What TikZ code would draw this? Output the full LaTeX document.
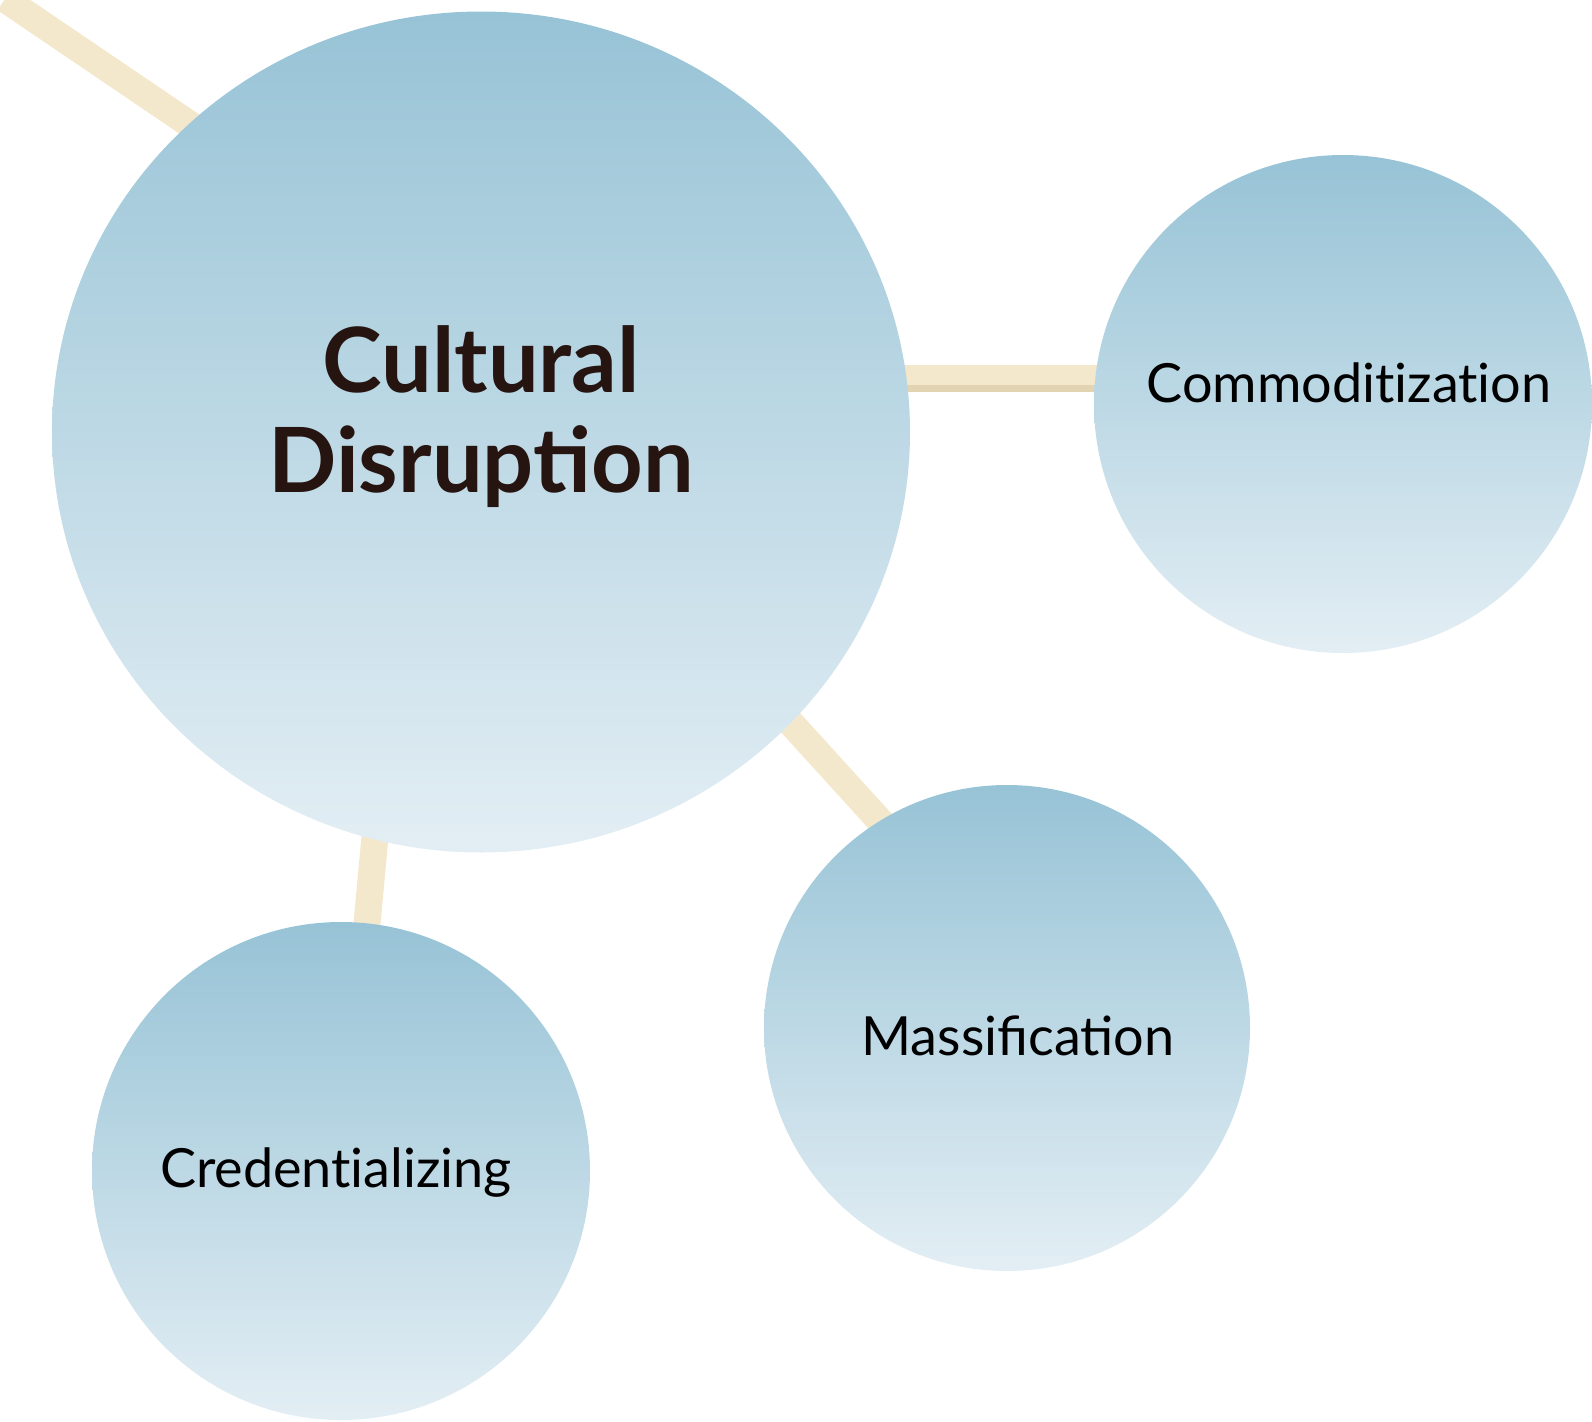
\documentclass[tikz,border=0pt]{standalone}
\usepackage{fontspec}
\setmainfont{Lato}
\usetikzlibrary{shapes.geometric}

\definecolor{bubbletop}{RGB}{151,195,214}
\definecolor{bubblebot}{RGB}{227,238,244}
\definecolor{stick}{RGB}{244,232,204}
\definecolor{stickdark}{RGB}{226,212,178}
\definecolor{labelink}{RGB}{38,20,16}

\tikzset{every picture/.style={line width=0.75pt}}
\tikzset{
  bubble/.style={circle, draw=none, top color=bubbletop, bottom color=bubblebot, inner sep=0pt},
  stickline/.style={draw=stick, line width=13.5pt, line cap=butt},
  smalltext/.style={anchor=base, inner sep=0pt, text=black, font=\fontsize{27}{32}\selectfont}
}

\begin{document}
\begin{tikzpicture}[x=0.5pt,y=0.5pt,yscale=-1,xscale=1]
        \useasboundingbox (0,0) rectangle (1592,1421); %set diagram to the size of the reference
        
        %Coordinates for the stick ends
        \coordinate (tlA) at (5,-1);
        \coordinate (tlB) at (260,172);
        \coordinate (comA) at (895,378);
        \coordinate (comB) at (1105,378);
        \coordinate (comdA) at (895,388);
        \coordinate (comdB) at (1105,388);
        \coordinate (masA) at (770,700);
        \coordinate (masB) at (900,843);
        \coordinate (creA) at (377,815);
        \coordinate (creB) at (365,945);
        
        %Straight Lines [sticks]
        \draw [stickline] (tlA) -- (tlB) ;
        \draw [stickline] (comA) -- (comB) ;
        \draw [stickline, draw=stickdark, line width=3.5pt] (comdA) -- (comdB) ;
        \draw [stickline] (masA) -- (masB) ;
        \draw [stickline] (creA) -- (creB) ;
        
        %Shape: Ellipse [big bubble]
        \draw (481,432) node (cult) [bubble, ellipse, minimum width=429pt, minimum height=420.5pt] {};
        %Shape: Circle [small bubbles]
        \draw (1343,404) node (comm) [bubble, minimum size=249pt] {};
        \draw (1007,1028) node (mass) [bubble, minimum size=243pt] {};
        \draw (341,1171) node (cred) [bubble, minimum size=249pt] {};
        
        %Labels
        \draw (481,417) node (cultlabel) [inner sep=0pt, text=labelink, align=center, font=\fontsize{45}{50}\bfseries] {Cultural\\Disruption};
        \draw (1349,402) node (commlabel) [smalltext] {\addfontfeatures{Ligatures=NoCommon}Commoditization};
        \draw (1018,1055) node (masslabel) [smalltext] {Massification};
        \draw (336,1187) node (credlabel) [smalltext] {\addfontfeatures{Ligatures=NoCommon}Credentializing};

\end{tikzpicture}
\end{document}
